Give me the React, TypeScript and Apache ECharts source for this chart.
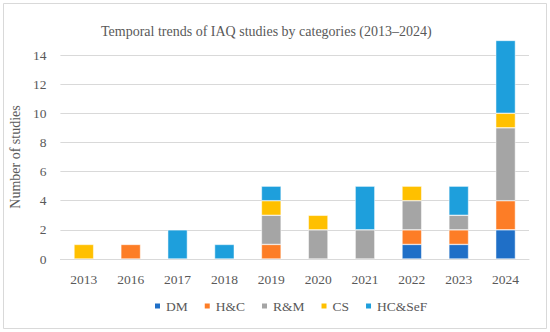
import React, { useEffect, useRef } from "react";
import * as echarts from "echarts";

const years = ["2013", "2016", "2017", "2018", "2019", "2020", "2021", "2022", "2023", "2024"];
const dm = [0, 0, 0, 0, 0, 0, 0, 1, 1, 2];
const hc = [0, 1, 0, 0, 1, 0, 0, 1, 1, 2];
const rm = [0, 0, 0, 0, 2, 2, 2, 2, 1, 5];
const cs = [1, 0, 0, 0, 1, 1, 0, 1, 0, 1];
const hcsef = [0, 0, 2, 1, 1, 0, 3, 0, 2, 5];
const seriesNames = ["DM", "H&C", "R&M", "CS", "HC&SeF"];
const colors = ["#1f6fc7", "#fd7d26", "#a5a5a5", "#ffc000", "#1e9fdc"];

const FONT = "Liberation Serif";

export default function App() {
  const ref = useRef<HTMLDivElement>(null);
  useEffect(() => {
    const chart = echarts.init(ref.current!, null, { renderer: "svg" });
    const data = [dm, hc, rm, cs, hcsef];
    chart.setOption({
      animation: false,
      backgroundColor: "#ffffff",
      color: colors,
      title: {
        text: "Temporal trends of IAQ studies by categories (2013\u20132024)",
        left: 96,
        top: 19,
        textStyle: { fontFamily: FONT, fontSize: 14, fontWeight: "normal", color: "#595959" },
      },
      legend: {
        bottom: 14,
        left: 148,
        itemWidth: 7,
        itemHeight: 7,
        itemGap: 15,
        icon: "rect",
        textStyle: { fontFamily: FONT, fontSize: 13.5, color: "#595959" },
        data: seriesNames,
      },
      graphic: [
        {
          type: "rect",
          shape: { x: 3.5, y: 3.5, width: 543, height: 325 },
          style: { fill: "none", stroke: "#d9d9d9", lineWidth: 1 },
          silent: true,
        },
      ],
      grid: { left: 57, right: 21, top: 55, bottom: 73, containLabel: false },
      xAxis: {
        type: "category",
        data: years,
        axisLine: { lineStyle: { color: "#d9d9d9" } },
        axisTick: { show: false },
        axisLabel: { fontFamily: FONT, fontSize: 13.5, color: "#595959", margin: 13 },
      },
      yAxis: {
        type: "value",
        min: 0,
        max: 14,
        interval: 2,
        name: "Number of studies",
        nameLocation: "middle",
        nameGap: 36,
        nameTextStyle: { fontFamily: FONT, fontSize: 14, color: "#595959" },
        axisLine: { show: false },
        axisTick: { show: false },
        axisLabel: { fontFamily: FONT, fontSize: 13.5, color: "#595959", margin: 14 },
        splitLine: { lineStyle: { color: "#d9d9d9" } },
      },
      series: seriesNames.map((name, i) => ({
        name,
        type: "bar",
        stack: "total",
        clip: false,
        barWidth: "42%",
        data: data[i].map((v) => (v === 0 ? null : v)),
        itemStyle: { borderColor: "#ffffff", borderWidth: 0.5 },
      })),
    });
    return () => chart.dispose();
  }, []);
  return (
    <div
      ref={ref}
      style={{ position: "fixed", left: 0, top: 0, width: 550, height: 332 }}
    />
  );
}
